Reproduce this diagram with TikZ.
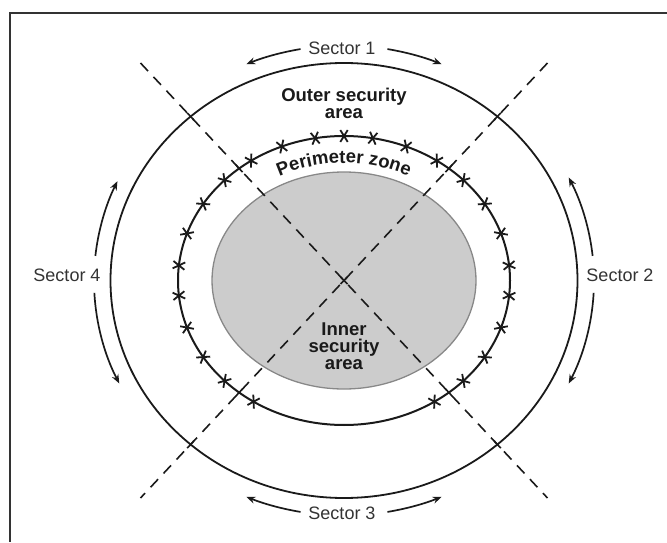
\documentclass[tikz,border=0pt]{standalone}
\usepackage{fontspec}
\setmainfont{Liberation Sans}
\usepackage{xcolor}
\usepackage{tikz}
\usetikzlibrary{arrows.meta,decorations.text}
\definecolor{zoneink}{HTML}{1A1A1A}
\definecolor{zonetext}{HTML}{333333}
\definecolor{zonefill}{HTML}{CCCCCC}
\definecolor{zoneedge}{HTML}{888888}
\definecolor{zoneframe}{HTML}{333333}

\begin{document}
\begin{tikzpicture}[
  x=1pt,y=1pt,
  ring/.style={draw=zoneink,line width=1.8pt},
  fence/.style={draw=zoneink,line width=2pt},
  heart/.style={draw=zoneedge,fill=zonefill,line width=1.3pt},
  cut/.style={draw=zoneink,line width=1.6pt,dash pattern=on 11pt off 8pt},
  tick/.style={draw=zoneink,line width=1.6pt},
  barb/.style={draw=zoneink,line width=1.8pt},
  sector/.style={-{Stealth[length=9pt,width=7pt]},line width=1.7pt,draw=zoneink},
  sectorlabel/.style={font=\fontsize{18}{18}\selectfont,text=zonetext,inner sep=2pt},
  arealabel/.style={font=\fontsize{18.5}{17}\selectfont\bfseries,text=zoneink,align=center,inner sep=0pt}
]
\useasboundingbox (0,0) rectangle (667,542);
% only the top and left edge of the frame are in the crop
\draw[zoneframe,line width=2.2pt] (667,529) -- (10,529) -- (10,0);

\coordinate (C) at (344,261.5);
\draw[heart] (C) ellipse[x radius=132,y radius=108.5];

% sector boundaries
\coordinate (nw) at (140.5,479);
\coordinate (se) at (547.5,44);
\coordinate (ne) at (547.5,479);
\coordinate (sw) at (140.5,44);
\draw[cut] (nw) -- (se);
\draw[cut] (ne) -- (sw);
\foreach \p in {0.123,0.2425,0.7575,0.877}{
  \path (nw) -- (se) coordinate[pos=\p] (t);
  \draw[tick] (t) +(-3.4,3.65) -- +(3.4,-3.65);
  \path (ne) -- (sw) coordinate[pos=\p] (t);
  \draw[tick] (t) +(3.4,3.65) -- +(-3.4,-3.65);
}
\draw[tick] (C) +(-3.5,-3.5) -- +(3.5,3.5) +(-3.5,3.5) -- +(3.5,-3.5);

\draw[ring] (C) ellipse[x radius=233.5,y radius=217.5];
\draw[fence] (C) ellipse[x radius=166,y radius=144.5];

% wire on the perimeter
\foreach \t in {6,19,32,44,56,68,80,90,100,112,124,136,148,161,174,186,199,212,224,237,303,316,328,341,354}{
  \pgfmathsetmacro\tang{atan2(144.5*cos(\t),-166*sin(\t))}
  \pgfmathsetmacro\a{\tang+58}
  \pgfmathsetmacro\b{\tang-58}
  \draw[barb] ([shift={(\t:166 and 144.5)}]C) +(\a:7) -- +(\a:-7) +(\b:7) -- +(\b:-7);
}

% sector arrows
\foreach \s/\e in {100/113,80/67,174/155,183/206,260/247,280/293,6/26,-3/-26}{
  \draw[sector] ([shift={(\s:250 and 235)}]C) arc[start angle=\s,end angle=\e,x radius=250,y radius=235];
}

\node[sectorlabel] (s1) at (342,494) {Sector 1};
\node[sectorlabel] (s2) at (620,267) {Sector 2};
\node[sectorlabel] (s3) at (342,29) {Sector 3};
\node[sectorlabel] (s4) at (67,267) {Sector 4};

\node[arealabel] (outer) at (344,439) {Outer security\\area};
\node[arealabel] (inner) at (344,196) {Inner\\security\\area};
\path[decorate,decoration={text along path,text align=center,
  text={|\fontsize{18.5}{18}\selectfont\bfseries\color{zoneink}|Perimeter zone}}]
  ([shift={(150:139 and 117.5)}]C) arc[start angle=150,end angle=30,x radius=139,y radius=117.5];
\end{tikzpicture}
\end{document}
